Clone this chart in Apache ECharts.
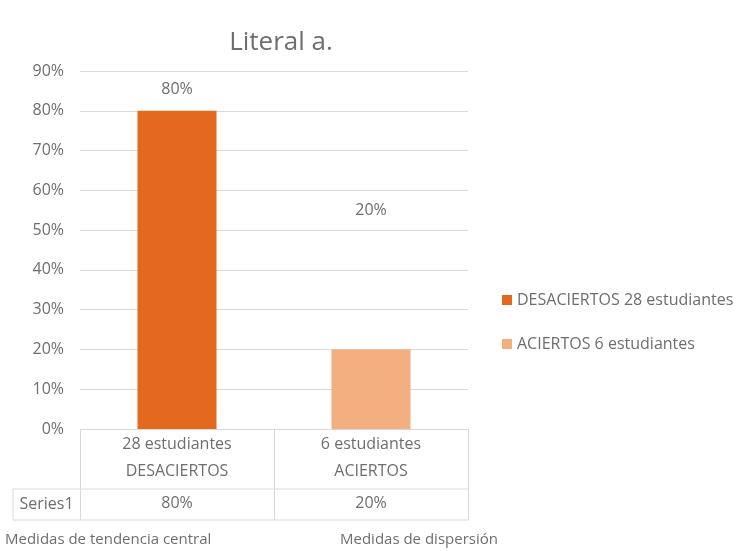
<!DOCTYPE html>
<html>
<head>
<meta charset="utf-8">
<script src="https://cdn.jsdelivr.net/npm/echarts@6/dist/echarts.min.js"></script>
<style>
  html, body { margin: 0; padding: 0; background: #ffffff; }
  #chart { width: 749px; height: 551px; }
</style>
</head>
<body>
<div id="chart"></div>
<script>
// Categories shown along the bottom (two-line labels)
const categories = ['28 estudiantes\nDESACIERTOS', '6 estudiantes\nACIERTOS'];
// Legend / series names
const seriesNames = ['DESACIERTOS 28 estudiantes', 'ACIERTOS 6 estudiantes'];
// Percent values per category
const values = [80, 20];
// Y axis range and step (percent)
const yMin = 0;
const yMax = 90;
const yStep = 10;
// Data-table row name and footer captions
const tableRowName = 'Series1';
const footerLeft = 'Medidas de tendencia central';
const footerRight = 'Medidas de dispersión';

const TEXT = '#6e6e6e';
const LINE = '#d9d9d9';
const COLORS = ['#E2691D', '#F4AF80'];
const FONT = '"Open Sans", Lato, sans-serif';
const FS = 16;

// Plot frame
const G = { left: 80, right: 468, top: 71, bottom: 429 };
const tableRowTop = 489;
const tableBottom = 520;
const tableLeft = 13;

const chart = echarts.init(document.getElementById('chart'));

// Each series holds only its own category so both bars sit centred in the slot
const seriesData = seriesNames.map((name, i) =>
  values.map((v, j) => (j === i ? v : '-'))
);

chart.setOption({
  backgroundColor: '#ffffff',
  animation: false,
  textStyle: { fontFamily: FONT },
  title: {
    text: 'Literal a.',
    left: 276,
    top: 25,
    textAlign: 'center',
    textStyle: { fontFamily: FONT, fontSize: 26, fontWeight: 'normal', color: TEXT }
  },
  legend: {
    orient: 'vertical',
    left: 502,
    top: 292,
    padding: 0,
    itemWidth: 10,
    itemHeight: 10,
    itemGap: 28,
    icon: 'rect',
    data: seriesNames,
    textStyle: { fontFamily: FONT, fontSize: FS, lineHeight: 16, color: TEXT, padding: [0, 0, 0, 0] }
  },
  grid: {
    left: G.left,
    right: 749 - G.right,
    top: G.top,
    bottom: 551 - G.bottom,
    containLabel: false
  },
  xAxis: [
    {
      type: 'category',
      data: categories,
      axisLine: { show: true, lineStyle: { color: LINE, width: 1 } },
      axisTick: {
        show: true,
        alignWithLabel: false,
        interval: 0,
        length: tableBottom - G.bottom,
        inside: false,
        lineStyle: { color: LINE }
      },
      axisLabel: {
        interval: 0,
        margin: 2,
        fontSize: FS,
        lineHeight: 27,
        color: TEXT,
        fontFamily: FONT
      }
    },
    {
      // values row of the data table
      type: 'category',
      position: 'bottom',
      offset: 66,
      data: categories,
      axisLine: { show: false },
      axisTick: { show: false },
      axisLabel: {
        interval: 0,
        margin: 0,
        fontSize: FS,
        color: TEXT,
        fontFamily: FONT,
        formatter: (v, i) => values[i] + '%'
      }
    }
  ],
  yAxis: {
    type: 'value',
    min: yMin,
    max: yMax,
    interval: yStep,
    axisLine: { show: false },
    axisTick: { show: false },
    axisLabel: {
      margin: 16,
      fontSize: FS,
      color: TEXT,
      fontFamily: FONT,
      formatter: v => v + '%'
    },
    splitLine: { lineStyle: { color: LINE, width: 1 } }
  },
  series: seriesNames.map((name, i) => ({
    name: name,
    type: 'bar',
    stack: 'one',
    barWidth: 79,
    data: seriesData[i],
    itemStyle: { color: COLORS[i] },
    label: {
      show: true,
      position: 'top',
      distance: i === 0 ? 13 : 131,
      fontSize: FS,
      color: TEXT,
      fontFamily: FONT,
      formatter: p => p.value + '%'
    }
  })),
  graphic: [
    // horizontal rules of the values row
    { type: 'line', shape: { x1: tableLeft, y1: tableRowTop, x2: G.right, y2: tableRowTop },
      style: { stroke: LINE, lineWidth: 1 } },
    { type: 'line', shape: { x1: tableLeft, y1: tableBottom, x2: G.right, y2: tableBottom },
      style: { stroke: LINE, lineWidth: 1 } },
    // left edge of the row-name cell
    { type: 'line', shape: { x1: tableLeft, y1: tableRowTop, x2: tableLeft, y2: tableBottom },
      style: { stroke: LINE, lineWidth: 1 } },
    {
      type: 'text',
      x: (tableLeft + G.left) / 2,
      y: (tableRowTop + tableBottom) / 2,
      style: { text: tableRowName, fill: TEXT, font: FS + 'px ' + FONT, align: 'center', verticalAlign: 'middle' }
    },
    {
      type: 'text',
      x: 5,
      y: 540,
      style: { text: footerLeft, fill: TEXT, font: '15px ' + FONT, align: 'left', verticalAlign: 'middle' }
    },
    {
      type: 'text',
      x: 340,
      y: 540,
      style: { text: footerRight, fill: TEXT, font: '15px ' + FONT, align: 'left', verticalAlign: 'middle' }
    }
  ]
});
</script>
</body>
</html>
